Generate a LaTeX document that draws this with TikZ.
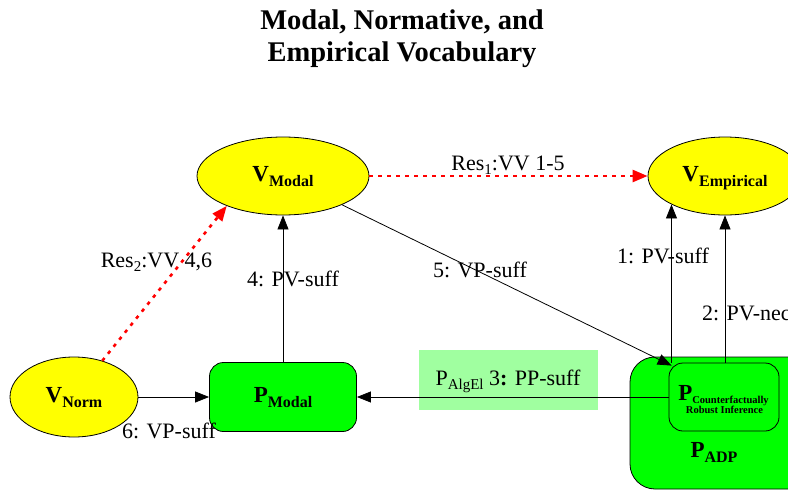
\documentclass[tikz,border=0pt]{standalone}
\usepackage{fontspec}
\setmainfont{Liberation Serif}
\usetikzlibrary{arrows.meta,shapes.geometric,calc}

% bold node label with a lowered subscript
\newcommand{\nodelab}[2]{{\fontsize{23}{23}\selectfont\bfseries #1}\raisebox{-5pt}{\fontsize{16}{16}\selectfont\bfseries #2}}
% small lowered subscript for edge labels
\newcommand{\edgesub}[1]{\raisebox{-4pt}{\fontsize{15}{15}\selectfont #1}}

\definecolor{vyellow}{RGB}{255,255,0}
\definecolor{pgreen}{RGB}{0,255,0}
\definecolor{lgreen}{RGB}{160,255,160}

\begin{document}
\begin{tikzpicture}[x=1pt,y=-1pt,
  vnode/.style={ellipse,draw=black,line width=0.8pt,fill=vyellow,inner sep=0pt,
                text height=15pt,text depth=5pt},
  pnode/.style={rectangle,rounded corners=14pt,draw=black,line width=0.8pt,fill=pgreen,inner sep=0pt,
                text height=15pt,text depth=5pt},
  conn/.style={draw=black,line width=0.8pt,-{Triangle[length=14pt,width=11pt]}},
  res/.style={draw=red,line width=2.6pt,dash pattern=on 3.5pt off 5.5pt,
              -{Triangle[length=15pt,width=12pt]}},
  elab/.style={font=\fontsize{22}{22}\selectfont,inner sep=0pt,anchor=base},
  ttl/.style={font=\fontsize{28.5}{28.5}\selectfont\bfseries,inner sep=0pt,anchor=base},
]
\useasboundingbox (0,0) rectangle (788,490);
\clip (0,0) rectangle (788,490);

% title
\node[ttl] (t1) at (402,29) {Modal, Normative, and};
\node[ttl] (t2) at (402,61) {Empirical Vocabulary};

% background of the AlgEl label
\node[fill=lgreen,minimum width=179pt,minimum height=60pt,inner sep=0pt] (l3box) at (508.5,380) {};

% vocabularies
\node[vnode,minimum width=172pt,minimum height=78pt] (vmodal) at (283,176) {\nodelab{V}{Modal}};
\node[vnode,minimum width=154pt,minimum height=78pt] (vemp) at (725,176) {\nodelab{V}{Empirical}};
\node[vnode,minimum width=128pt,minimum height=80pt] (vnorm) at (74,397) {\nodelab{V}{Norm}};

% practices
\node[pnode,minimum width=147pt,minimum height=69pt] (pmodal) at (283,397) {\nodelab{P}{Modal}};
\node[pnode,rounded corners=25pt,minimum width=200pt,minimum height=132pt] (padp) at (730,423) {};
\node[inner sep=0pt,anchor=base] (padplab) at (714,457) {\nodelab{P}{ADP}};
\node[pnode,minimum width=110pt,minimum height=68pt] (pcri) at (724,397) {};
\node[inner sep=0pt,anchor=base] (pcrilab1) at (723.5,400)
  {{\fontsize{23}{23}\selectfont\bfseries P}\raisebox{-3pt}{\fontsize{10.5}{10.5}\selectfont\bfseries Counterfactually}};
\node[inner sep=0pt,anchor=base,font=\fontsize{10.5}{10.5}\selectfont\bfseries] (pcrilab2) at (724.5,413) {Robust Inference};

% resultant relations
\draw[res] (vmodal.east) -- (vemp.west);
\draw[res] (vnorm.52) -- (vmodal.208);

% basic relations
\draw[conn] (pmodal.north) -- (vmodal.south);
\draw[conn] (vmodal) -- ($(pcri.north west)+(3,3)$);
\draw[conn] (vemp.208 |- pcri.north) -- (vemp.208);
\draw[conn] (vemp.south |- pcri.north) -- (vemp.south);
\draw[conn] (pcri.west) -- (pmodal.east);
\draw[conn] (vnorm.east) -- (pmodal.west);

% labels
\node[elab] (lres1) at (508,170) {Res\edgesub{1}:VV 1-5};
\node[elab] (lres2) at (156.5,267) {Res\edgesub{2}:VV 4,6};
\node[elab] (l4) at (293,286) {4: PV-suff};
\node[elab] (l5) at (480,277) {5: VP-suff};
\node[elab] (l1) at (663,263) {1: PV-suff};
\node[elab,anchor=base west] (l2) at (702,320) {2: PV-nec};
\node[elab] (l3) at (508,385) {P\edgesub{AlgEl} 3\textbf{:} PP-suff};
\node[elab] (l6) at (169,438) {6: VP-suff};
\end{tikzpicture}
\end{document}
